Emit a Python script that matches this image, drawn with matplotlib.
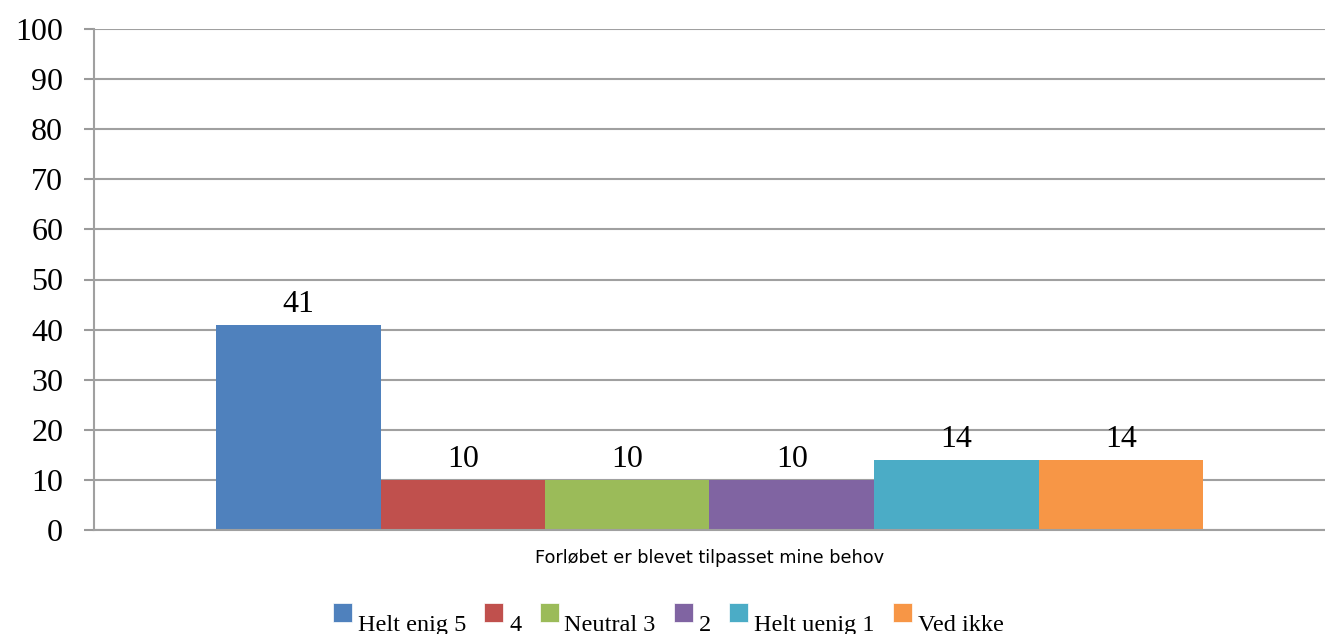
import matplotlib
matplotlib.use("Agg")
import matplotlib.pyplot as plt
from matplotlib.patches import Rectangle

category = "Forløbet er blevet tilpasset mine behov"
series = ["Helt enig 5", "4", "Neutral 3", "2", "Helt uenig 1", "Ved ikke"]
values = [41, 10, 10, 10, 14, 14]
colors = ["#4F81BD", "#C0504D", "#9BBB59", "#8064A2", "#4BACC6", "#F79646"]
yticks = list(range(0, 101, 10))

W, H = 1325, 634
fig = plt.figure(figsize=(W / 100, H / 100), dpi=100)
ax = fig.add_axes([94 / W, 1 - 530 / H, 1 - 94 / W, (530 - 29) / H])

bw = 164.5 / (W - 94)
n = len(values)
for i, (s, v, c) in enumerate(zip(series, values, colors)):
    x = 0.5 + (i - (n - 1) / 2) * bw
    bars = ax.bar(x, v, width=bw, color=c, label=s, zorder=2, linewidth=0)
    ax.bar_label(bars, labels=[str(v)], padding=4, fontsize=23,
                 family="Liberation Serif")

ax.set_xlim(0, 1)
ax.set_ylim(0, 100)
ax.set_yticks(yticks)
ax.set_yticklabels([str(t) for t in yticks], fontsize=23, family="Liberation Serif")
ax.set_xticks([0.5])
ax.set_xticklabels([category], fontsize=12.8, family="DejaVu Sans")
ax.tick_params(axis="x", length=0, pad=14)
ax.tick_params(axis="y", length=7.2, width=1.5, color="#9a9a9a", pad=15)
ax.yaxis.grid(True, color="#a0a0a0", linewidth=1.5, zorder=1)
ax.set_axisbelow(True)
for sp in ["top", "right"]:
    ax.spines[sp].set_visible(False)
ax.spines["left"].set_color("#a0a0a0")
ax.spines["left"].set_linewidth(1.5)
ax.spines["bottom"].set_color("#a0a0a0")
ax.spines["bottom"].set_linewidth(1.5)
ax.spines["bottom"].set_zorder(3)

# legend drawn manually: marker squares with text slightly lower
fig.canvas.draw()
renderer = fig.canvas.get_renderer()
x0 = 333
msize = 19
for s, c in zip(series, colors):
    fig.patches.append(Rectangle((x0 / W, 1 - 622 / H), msize / W, msize / H,
                                 transform=fig.transFigure, facecolor=c,
                                 edgecolor="white", linewidth=0.5))
    t = fig.text((x0 + msize + 6) / W, 1 - 631 / H, s, fontsize=17.5,
                 family="Liberation Serif", va="baseline", ha="left")
    bb = t.get_window_extent(renderer)
    x0 = bb.x1 + 18

fig.savefig("out.png", dpi=100)
